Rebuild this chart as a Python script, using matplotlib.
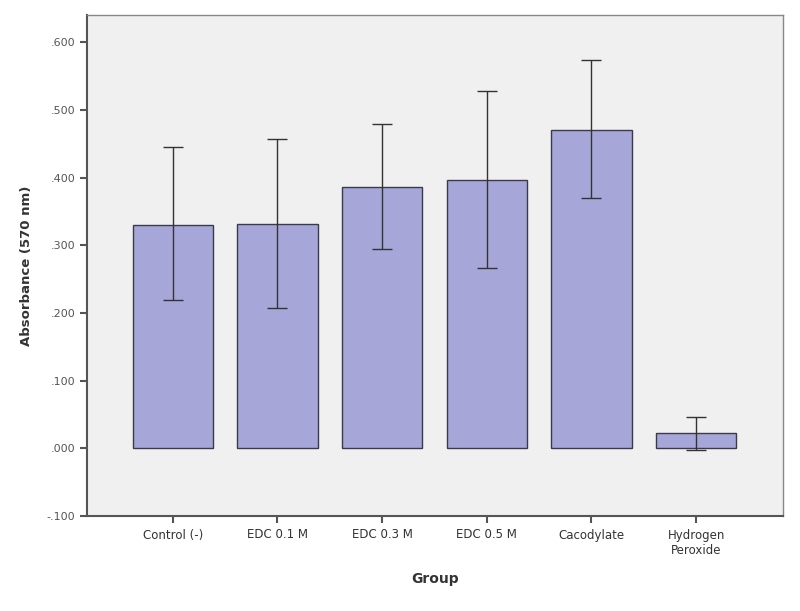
import matplotlib
matplotlib.use("Agg")
import matplotlib.pyplot as plt
from matplotlib.ticker import FuncFormatter

categories = ["Control (-)", "EDC 0.1 M", "EDC 0.3 M", "EDC 0.5 M", "Cacodylate", "Hydrogen\nPeroxide"]
means = [0.330, 0.331, 0.386, 0.397, 0.471, 0.023]
upper = [0.445, 0.457, 0.479, 0.528, 0.574, 0.047]
lower = [0.219, 0.207, 0.294, 0.266, 0.370, -0.003]
yticks = [-0.1, 0.0, 0.1, 0.2, 0.3, 0.4, 0.5, 0.6]

fig = plt.figure(figsize=(8, 6.11), dpi=100)
ax = fig.add_axes([87/800, 1-516/611, (783-87)/800, (516-15)/611])
ax.set_facecolor("#f0f0f0")

x = list(range(len(categories)))
yerr = [[m - l for m, l in zip(means, lower)], [u - m for m, u in zip(means, upper)]]
ax.bar(x, means, width=0.77, color="#a6a6d8", edgecolor="#3a3a4a", linewidth=1.0, zorder=2)
ax.errorbar(x, means, yerr=yerr, fmt="none", ecolor="#333333", elinewidth=1.0,
            capsize=7, capthick=1.0, zorder=3)

ax.set_xlim(-0.82, 5.83)
ax.set_ylim(-0.1, 0.6405)
ax.set_yticks(yticks)
ax.yaxis.set_major_formatter(FuncFormatter(lambda v, p: ("-" if v < -1e-9 else "") + ("%.3f" % abs(v)).lstrip("0")))
ax.set_xticks(x)
ax.set_xticklabels(categories, fontsize=8.5, color="#333333")
ax.tick_params(axis="y", labelsize=8, labelcolor="#555555", length=5, width=1.5, color="#555555")
ax.tick_params(axis="x", length=5, width=1.5, color="#555555", pad=4)

for s in ax.spines.values():
    s.set_color("#888888")
    s.set_linewidth(1.0)
for s in ["left", "bottom"]:
    ax.spines[s].set_color("#555555")
    ax.spines[s].set_linewidth(1.5)

ax.set_ylabel("Absorbance (570 nm)", fontsize=9.5, fontweight="bold", color="#333333", labelpad=10)
ax.set_xlabel("Group", fontsize=10, fontweight="bold", color="#333333", labelpad=11)

fig.savefig("out.png", dpi=100)
